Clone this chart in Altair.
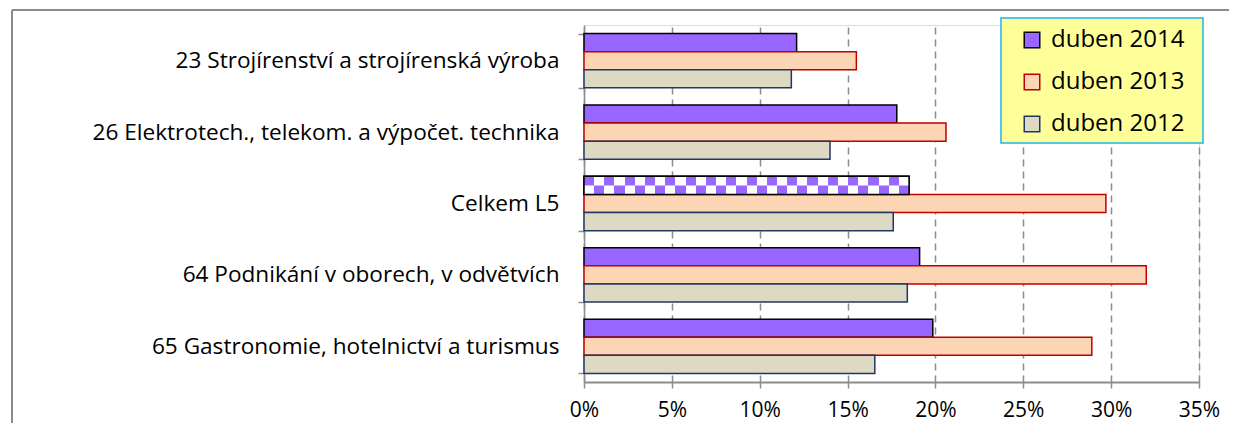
import altair as alt
import pandas as pd

categories = [
    "23 Strojírenství a strojírenská výroba ",
    "26 Elektrotech., telekom. a výpočet. technika",
    "Celkem L5",
    "64 Podnikání v oborech, v odvětvích",
    "65 Gastronomie, hotelnictví a turismus",
]
series = ["duben 2014", "duben 2013", "duben 2012"]
v2014 = [0.121, 0.178, 0.185, 0.191, 0.1985]
v2013 = [0.155, 0.206, 0.297, 0.320, 0.289]
v2012 = [0.118, 0.140, 0.176, 0.184, 0.1655]
x_ticks = [0, 0.05, 0.10, 0.15, 0.20, 0.25, 0.30, 0.35]

fills = ["#9966FF", "#FCD5B5", "#DDD9C3"]
strokes = ["#000000", "#C00000", "#1F3864"]
FONT = "Open Sans"
GRAY = "#8C8C8C"

rows = []
for s, vals in zip(series, [v2014, v2013, v2012]):
    for c, v in zip(categories, vals):
        rows.append({"kategorie": c, "obdobi": s, "podil": v})
df = pd.DataFrame(rows)

W, H = 615, 357

y_enc = alt.Y(
    "kategorie:N", sort=categories,
    scale=alt.Scale(paddingInner=0.24, paddingOuter=0.12),
    axis=alt.Axis(title=None, tickBand="extent", domainColor=GRAY, domainWidth=1.5,
                  tickColor=GRAY, tickWidth=1.5, tickSize=6, labelPadding=19,
                  labelFontSize=22.6, labelLimit=700, labelColor="#000000", labelFont=FONT),
)
x_enc = alt.X(
    "podil:Q",
    scale=alt.Scale(domain=[0, 0.35], nice=False, zero=True),
    axis=alt.Axis(title=None, format=".0%", values=x_ticks, grid=True, gridDash=[7, 5],
                  gridColor=GRAY, gridWidth=1.5, domainColor=GRAY, domainWidth=2,
                  tickColor=GRAY, tickWidth=1.5, tickSize=6, labelPadding=11,
                  labelFlush=False, labelOverlap=False,
                  labelFontSize=21, labelColor="#000000", labelFont=FONT),
)
yoff = alt.YOffset("obdobi:N", sort=series, scale=alt.Scale(paddingInner=0, paddingOuter=0))

leg = alt.Legend(title=None, orient="none", legendX=436, legendY=3, padding=0,
                 symbolType="square", symbolSize=240, symbolStrokeWidth=1.5,
                 labelFontSize=24, labelFont=FONT, labelColor="#000000",
                 rowPadding=18, labelOffset=7)

base = alt.Chart(df)

bars = base.mark_bar(strokeWidth=1.5).encode(
    y=y_enc, x=x_enc, yOffset=yoff,
    fill=alt.Fill("obdobi:N", sort=series, scale=alt.Scale(domain=series, range=fills), legend=leg),
    stroke=alt.Stroke("obdobi:N", sort=series, scale=alt.Scale(domain=series, range=strokes), legend=leg),
)

# checkered pattern for the "Celkem L5" 2014 bar
n_stripes = 32
def stripes(first, second):
    stops = []
    for i in range(n_stripes):
        col = first if i % 2 == 0 else second
        stops.append(alt.GradientStop(offset=i / n_stripes, color=col))
        stops.append(alt.GradientStop(offset=(i + 1) / n_stripes, color=col))
    return alt.LinearGradient(gradient="linear", stops=stops, x1=0, x2=1, y1=0, y2=0)

sel = (alt.datum.kategorie == "Celkem L5") & (alt.datum.obdobi == "duben 2014")
patA = base.transform_filter(sel).mark_bar(fill=stripes("#9966FF", "#FFFFFF"), strokeWidth=0).encode(
    y=y_enc, x=x_enc, yOffset=yoff)
patB = base.transform_filter(sel).mark_bar(fill=stripes("#FFFFFF", "#9966FF"), strokeWidth=0,
                                           size=9, yOffset=-13.5).encode(y=y_enc, x=x_enc)
patC = base.transform_filter(sel).mark_bar(fillOpacity=0, stroke="#000000", strokeWidth=1.5).encode(
    y=y_enc, x=x_enc, yOffset=yoff)

one = pd.DataFrame({"k": [0]})
legend_box = alt.Chart(one).mark_rect(fill="#FFFF99", stroke="#1CB4EC", strokeWidth=1.5).encode(
    x=alt.value(417), x2=alt.value(619), y=alt.value(-7), y2=alt.value(118))
frame_left = alt.Chart(one).mark_rule(color=GRAY, strokeWidth=2).encode(
    x=alt.value(-572), y=alt.value(-15), y2=alt.value(420))
frame_top = alt.Chart(one).mark_rule(color=GRAY, strokeWidth=2).encode(
    x=alt.value(-572), x2=alt.value(660), y=alt.value(-15))

chart = alt.layer(frame_left, frame_top, bars, patA, patB, patC, legend_box).properties(
    width=W, height=H,
    autosize=alt.AutoSizeParams(type="none"),
    padding={"left": 576, "top": 17, "right": 30, "bottom": 41},
).configure_view(stroke="transparent").configure(background="#FFFFFF")

chart.save("out.html", embed_options={"renderer": "svg", "actions": False})
